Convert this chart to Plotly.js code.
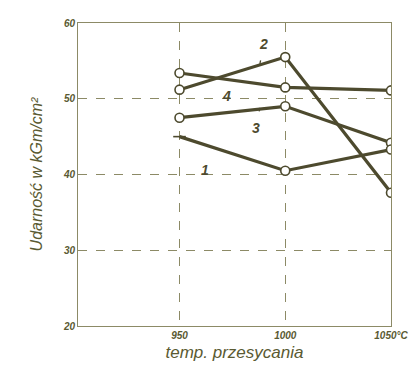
<!DOCTYPE html>
<html><head><meta charset="utf-8">
<script src="https://cdn.plot.ly/plotly-3.0.1.min.js"></script>
<style>body{margin:0;background:#fff}#c{width:412px;height:372px}</style>
</head><body><div id="c"></div>
<script>
const temps = [950, 1000, 1050];
const curve2 = [51.2, 55.5, 37.6];
const curve4 = [53.4, 51.5, 51.1];
const curve3 = [47.5, 49.0, 44.2];
const curve1 = [45.0, 40.5, 43.3];
const yTicks = [20, 30, 40, 50, 60];
const xTickText = ["950", "1000", "1050°C"];
const lineCol = '#4d4a2e';
function tr(y){
  return {x: temps, y: y, mode: 'lines+markers', type: 'scatter',
    line: {color: lineCol, width: 3.2},
    marker: {symbol: 'circle', size: 9, color: '#ffffff', line: {color: lineCol, width: 1.6}},
    hoverinfo: 'skip', showlegend: false};
}
const data = [tr(curve2), tr(curve4), tr(curve3), tr(curve1)];
data[3].marker.symbol = ['line-ew', 'circle', 'circle'];
const txtCol = '#5a5a32';
function lab(t, x, y, ax, ay){
  return {text: '<b><i>'+t+'</i></b>', x: x, y: y, xref: 'x', yref: 'y', showarrow: true,
    arrowhead: 0, arrowwidth: 1.3, arrowcolor: lineCol, ax: ax, ay: ay, standoff: 0, startstandoff: 7,
    font: {family: 'Liberation Sans', size: 14, color: lineCol}};
}
const layout = {
  width: 412, height: 372,
  margin: {l: 78, r: 21, t: 23, b: 46},
  paper_bgcolor: '#fff', plot_bgcolor: '#fff',
  xaxis: {range: [902, 1050], tickvals: temps, ticktext: xTickText,
    showgrid: true, gridcolor: '#8c8a66', griddash: 'dash', gridwidth: 1,
    showline: true, linecolor: '#8c8a66', mirror: true, zeroline: false, ticks: '',
    tickfont: {family: 'Liberation Sans', size: 10, color: txtCol, weight: 'bold', style: 'italic'},
    title: {text: '<i>temp. przesycania</i>', standoff: 6, font: {family: 'Liberation Sans', size: 17, color: txtCol}}},
  yaxis: {range: [20, 60], tickvals: yTicks,
    showgrid: true, gridcolor: '#8c8a66', griddash: 'dash', gridwidth: 1,
    showline: true, linecolor: '#8c8a66', mirror: true, zeroline: false, ticks: '',
    tickfont: {family: 'Liberation Sans', size: 10, color: txtCol, weight: 'bold', style: 'italic'},
    title: {text: '<i>Udarność w kGm/cm²</i>', standoff: 16, font: {family: 'Liberation Sans', size: 16, color: txtCol}}},
  annotations: [
    lab('2', 988, 54.6, 4, -20),
    lab('4', 975, 52.0, -6, 12),
    lab('3', 988, 48.8, -4, 20),
    lab('1', 965, 42.5, -6, 14)
  ]
};
Plotly.newPlot('c', data, layout, {displayModeBar: false, staticPlot: true});
</script></body></html>
